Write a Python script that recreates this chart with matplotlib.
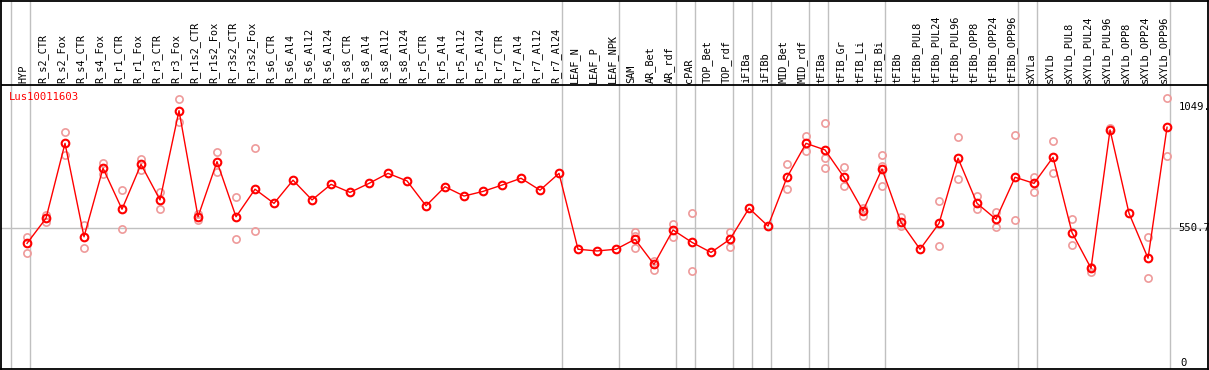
import numpy as np
import matplotlib
matplotlib.use("Agg")
import matplotlib.pyplot as plt

nan = np.nan

gene = "Lus10011603"

samples = ["HYP", "R_s2_CTR", "R_s2_Fox", "R_s4_CTR", "R_s4_Fox", "R_r1_CTR", "R_r1_Fox",
           "R_r3_CTR", "R_r3_Fox", "R_r1s2_CTR", "R_r1s2_Fox", "R_r3s2_CTR", "R_r3s2_Fox",
           "R_s6_CTR", "R_s6_Al4", "R_s6_Al12", "R_s6_Al24", "R_s8_CTR", "R_s8_Al4",
           "R_s8_Al12", "R_s8_Al24", "R_r5_CTR", "R_r5_Al4", "R_r5_Al12", "R_r5_Al24",
           "R_r7_CTR", "R_r7_Al4", "R_r7_Al12", "R_r7_Al24", "LEAF_N", "LEAF_P", "LEAF_NPK",
           "SAM", "AR_Bet", "AR_rdf", "cPAR", "TOP_Bet", "TOP_rdf", "iFIBa", "iFIBb",
           "MID_Bet", "MID_rdf", "tFIBa", "tFIB_Gr", "tFIB_Li", "tFIB_Bi", "tFIBb",
           "tFIBb_PUL8", "tFIBb_PUL24", "tFIBb_PUL96", "tFIBb_OPP8", "tFIBb_OPP24",
           "tFIBb_OPP96", "sXYLa", "sXYLb", "sXYLb_PUL8", "sXYLb_PUL24", "sXYLb_PUL96",
           "sXYLb_OPP8", "sXYLb_OPP24", "sXYLb_OPP96"]

# mean expression per sample
mean_expr = [489, 592, 899, 516, 797, 629, 813, 667, 1033, 598, 824, 598, 711,
             653, 748, 667, 731, 698, 735, 776, 745, 643, 721, 683, 702, 728, 756, 707, 776,
             465, 458, 465,
             506, 403, 544, 493, 452, 506, 633, 560, 760, 899,
             872, 760, 622, 794,
             575, 465, 571, 838, 653, 588, 760,
             735, 842, 533, 387, 954, 612, 428, 965]

# replicates (nan = hidden behind mean / not shown)
rep_a = [516, 605, 947, 564, 820, 708, 835, 701, 1081, 608, 862, 680, 879,
         nan, nan, nan, nan, nan, nan, nan, nan, nan, nan, nan, nan, nan, nan, nan, nan,
         nan, nan, nan,
         534, 417, 568, 612, nan, 537, nan, nan, 814, 929,
         984, 801, 635, 851,
         596, nan, 663, 924, 683, 616, 933,
         760, 909, 588, 393, 963, nan, 514, 1084]
rep_b = [448, 578, 851, 469, 773, 547, 790, 629, 988, 585, 783, 507, 541,
         nan, nan, nan, nan, nan, nan, nan, nan, nan, nan, nan, nan, nan, nan, nan, nan,
         nan, nan, nan,
         469, 380, 516, 376, nan, 475, nan, nan, 711, 869,
         797, 725, 601, 724,
         560, nan, 478, 752, 629, 557, 585,
         698, 776, 482, 373, nan, nan, 348, 848]
rep_c = [nan] * 32 + [521] + [nan] * 9 + [838, nan, nan, 807] + [nan] * 15

# columns after which a group separator is drawn
group_ends = [-1, 0, 28, 31, 34, 35, 37, 38, 39, 41, 42, 45, 52, 53, 60]

x = np.arange(len(samples))

fig = plt.figure(figsize=(12.09, 3.70), dpi=100)
ax = fig.add_axes([1.3 / 1209, 1 / 370, 1206.4 / 1209, 368.5 / 370])
ax.set_xlim(-1.353, 62.14)
ax.set_ylim(-25.8, 1484.4)
ax.set_xticks([])
ax.set_yticks([])
for s in ax.spines.values():
    s.set_color("black")
    s.set_linewidth(1.3)

mono = "DejaVu Sans Mono"
header_y = 1138

ax.axhline(header_y, color="black", lw=1.3, zorder=3)
ax.axhline(550.7, color="#c0c0c0", lw=1, zorder=1)
for g in group_ends:
    ax.axvline(g + 0.18, color="#c0c0c0", lw=1, zorder=1)

for i, name in enumerate(samples):
    ax.text(i - 0.18, header_y + 8, name, rotation=90, ha="center", va="bottom",
            fontsize=7.4, family=mono, color="black")

for reps in (rep_a, rep_b, rep_c):
    ax.plot(x, reps, linestyle="none", marker="o", ms=5.2, mfc="none",
            mec="#ee9a9a", mew=1.2, zorder=2)

ax.plot(x, mean_expr, color="red", lw=1, marker="o", ms=5.5, mfc="none",
        mec="red", mew=1.5, zorder=4)

ax.text(-0.95, 1089, gene, color="red", fontsize=7.6, family=mono,
        ha="left", va="center")

for val, lab in [(1049, "1049."), (550.7, "550.7"), (0, "0")]:
    ax.text(60.6 if lab != "0" else 60.7, val, lab, fontsize=7.6, family=mono,
            ha="left", va="center", color="black")

fig.savefig("out.png", dpi=100)
